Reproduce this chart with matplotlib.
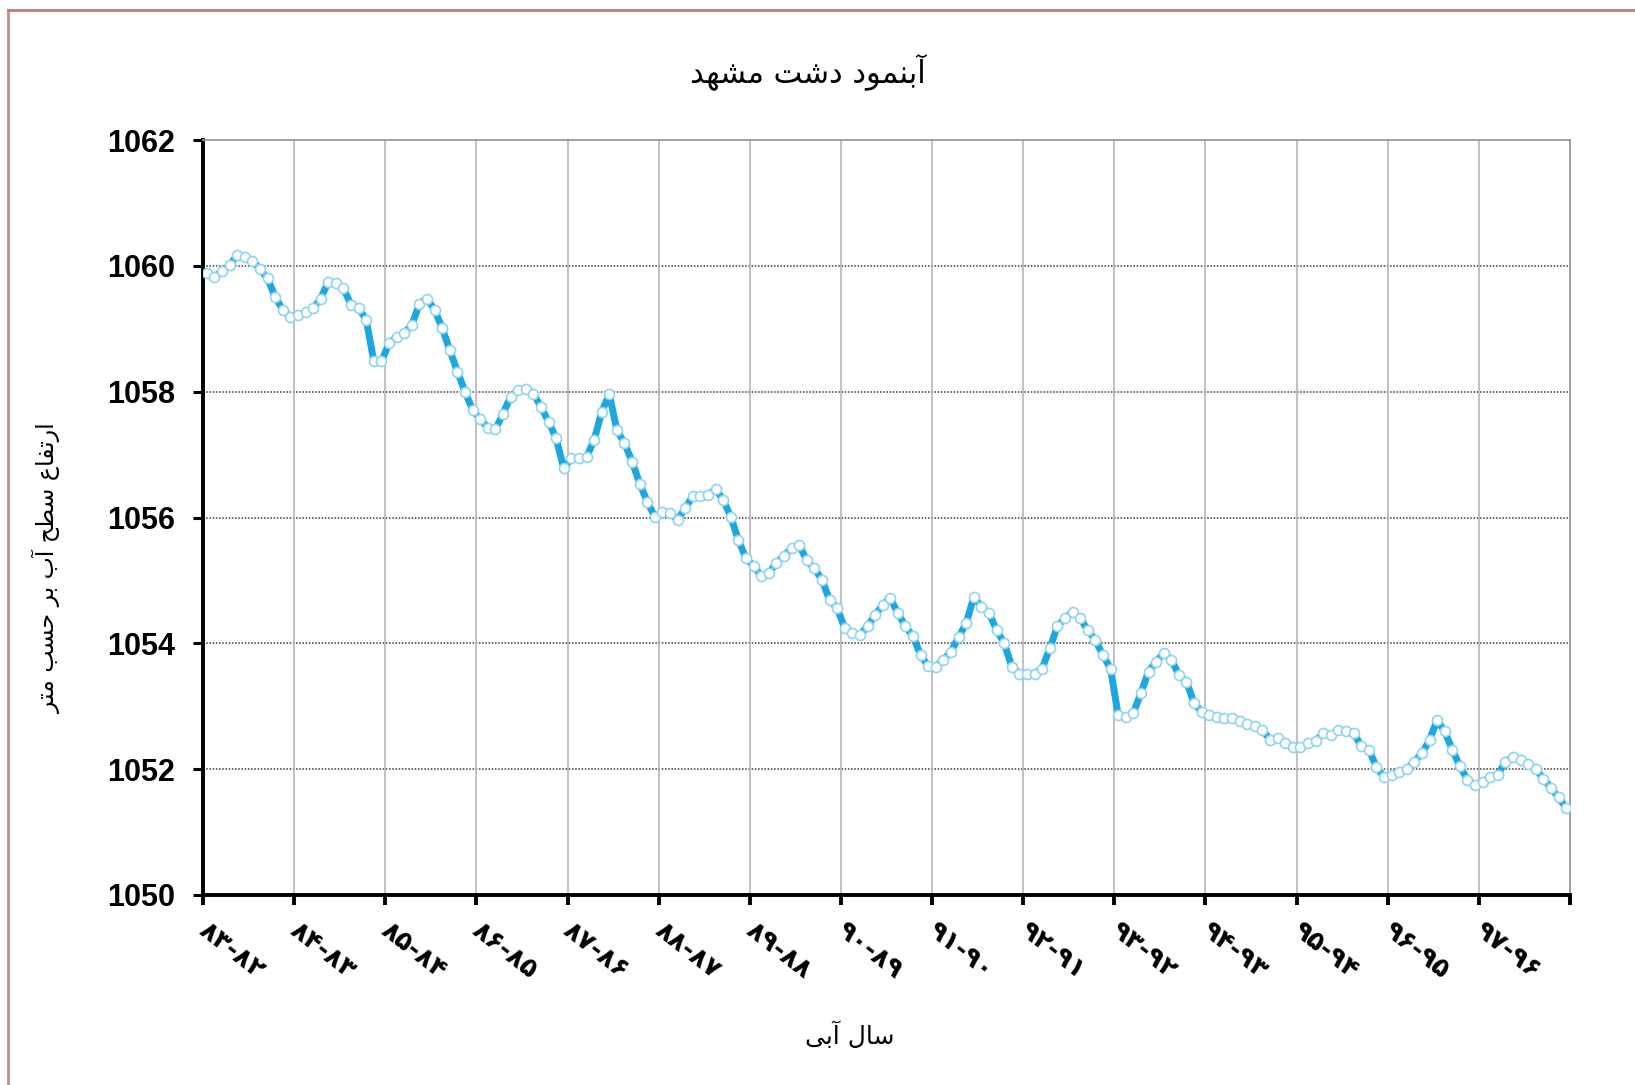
import matplotlib
matplotlib.use("Agg")
import matplotlib.pyplot as plt
from matplotlib.lines import Line2D
import numpy as np


# Persian presentation forms: (isolated, final, initial, medial) or (isolated, final)
FORMS = {
    "\u0622": ("\uFE81", "\uFE82"),
    "\u0627": ("\uFE8D", "\uFE8E"),
    "\u0628": ("\uFE8F", "\uFE90", "\uFE91", "\uFE92"),
    "\u062A": ("\uFE95", "\uFE96", "\uFE97", "\uFE98"),
    "\u062D": ("\uFEA1", "\uFEA2", "\uFEA3", "\uFEA4"),
    "\u062F": ("\uFEA9", "\uFEAA"),
    "\u0631": ("\uFEAD", "\uFEAE"),
    "\u0633": ("\uFEB1", "\uFEB2", "\uFEB3", "\uFEB4"),
    "\u0634": ("\uFEB5", "\uFEB6", "\uFEB7", "\uFEB8"),
    "\u0637": ("\uFEC1", "\uFEC2", "\uFEC3", "\uFEC4"),
    "\u0639": ("\uFEC9", "\uFECA", "\uFECB", "\uFECC"),
    "\u0641": ("\uFED1", "\uFED2", "\uFED3", "\uFED4"),
    "\u0644": ("\uFEDD", "\uFEDE", "\uFEDF", "\uFEE0"),
    "\u0645": ("\uFEE1", "\uFEE2", "\uFEE3", "\uFEE4"),
    "\u0646": ("\uFEE5", "\uFEE6", "\uFEE7", "\uFEE8"),
    "\u0647": ("\uFEE9", "\uFEEA", "\uFEEB", "\uFEEC"),
    "\u0648": ("\uFEED", "\uFEEE"),
    "\u06CC": ("\uFEEF", "\uFEF0", "\uFEF3", "\uFEF4"),
}


def shape(text):
    out = []
    for i, c in enumerate(text):
        if c not in FORMS:
            out.append(c)
            continue
        prev = text[i - 1] if i > 0 else None
        nxt = text[i + 1] if i + 1 < len(text) else None
        f = FORMS[c]
        joinPrev = prev in FORMS and len(FORMS[prev]) == 4
        joinNext = len(f) == 4 and nxt in FORMS
        if joinPrev and joinNext:
            out.append(f[3])
        elif joinPrev:
            out.append(f[1])
        elif joinNext:
            out.append(f[2])
        else:
            out.append(f[0])
    return "".join(reversed(out))


titleText = "آبنمود دشت مشهد"
yLabelText = "ارتفاع سطح آب بر حسب متر"
xLabelText = "سال آبی"

yearLabels = ["۸۳-۸۲", "۸۴-۸۳", "۸۵-۸۴", "۸۶-۸۵", "۸۷-۸۶", "۸۸-۸۷", "۸۹-۸۸", "۹۰-۸۹",
              "۹۱-۹۰", "۹۲-۹۱", "۹۳-۹۲", "۹۴-۹۳", "۹۵-۹۴", "۹۶-۹۵", "۹۷-۹۶"]

# monthly water level, one list per water year
y83 = [1059.88, 1059.82, 1059.92, 1060.01, 1060.17, 1060.14, 1060.08, 1059.95, 1059.80, 1059.51, 1059.30, 1059.19]
y84 = [1059.22, 1059.26, 1059.33, 1059.48, 1059.75, 1059.73, 1059.64, 1059.38, 1059.33, 1059.14, 1058.48, 1058.48]
y85 = [1058.77, 1058.87, 1058.93, 1059.06, 1059.40, 1059.48, 1059.30, 1059.01, 1058.66, 1058.32, 1058.00, 1057.71]
y86 = [1057.56, 1057.43, 1057.40, 1057.65, 1057.92, 1058.02, 1058.05, 1057.97, 1057.76, 1057.52, 1057.26, 1056.78]
y87 = [1056.94, 1056.94, 1056.96, 1057.23, 1057.68, 1057.96, 1057.39, 1057.18, 1056.89, 1056.54, 1056.25, 1056.01]
y88 = [1056.09, 1056.07, 1055.96, 1056.15, 1056.34, 1056.34, 1056.36, 1056.45, 1056.28, 1056.01, 1055.64, 1055.35]
y89 = [1055.23, 1055.07, 1055.11, 1055.28, 1055.39, 1055.51, 1055.56, 1055.32, 1055.19, 1055.01, 1054.69, 1054.56]
y90 = [1054.24, 1054.16, 1054.13, 1054.27, 1054.45, 1054.61, 1054.72, 1054.48, 1054.27, 1054.11, 1053.81, 1053.64]
y91 = [1053.63, 1053.74, 1053.87, 1054.10, 1054.32, 1054.74, 1054.58, 1054.48, 1054.21, 1054.00, 1053.63, 1053.52]
y92 = [1053.52, 1053.52, 1053.60, 1053.92, 1054.27, 1054.40, 1054.50, 1054.40, 1054.21, 1054.05, 1053.81, 1053.60]
y93 = [1052.86, 1052.83, 1052.89, 1053.21, 1053.55, 1053.71, 1053.84, 1053.74, 1053.50, 1053.39, 1053.05, 1052.91]
y94 = [1052.86, 1052.83, 1052.81, 1052.81, 1052.76, 1052.72, 1052.69, 1052.62, 1052.47, 1052.49, 1052.42, 1052.35]
y95 = [1052.35, 1052.41, 1052.44, 1052.58, 1052.54, 1052.62, 1052.61, 1052.58, 1052.37, 1052.31, 1052.04, 1051.87]
y96 = [1051.91, 1051.96, 1052.00, 1052.12, 1052.25, 1052.46, 1052.78, 1052.60, 1052.31, 1052.05, 1051.83, 1051.75]
y97 = [1051.80, 1051.88, 1051.91, 1052.12, 1052.20, 1052.15, 1052.08, 1052.00, 1051.85, 1051.70, 1051.55, 1051.38]

levels = np.array(y83 + y84 + y85 + y86 + y87 + y88 + y89 + y90 + y91 + y92 + y93 + y94 + y95 + y96 + y97)
months = np.arange(len(levels)) + 0.5

W, H = 1635, 1085
fig = plt.figure(figsize=(W / 100, H / 100), dpi=100)
ax = fig.add_axes([203 / W, 1 - 895 / H, (1570 - 203) / W, (895 - 140) / H])

ax.plot(months, levels, color="#1ea6df", lw=5, marker="o", ms=7.2,
        mfc="white", mec="#8fd4f0", mew=1.2, zorder=3)

ax.set_xlim(0, 180)
ax.set_ylim(1050, 1062)
ax.set_yticks(range(1050, 1063, 2))
ax.set_yticklabels([str(v) for v in range(1050, 1063, 2)],
                   fontfamily="Liberation Sans", fontweight="bold", fontsize=22)
ax.set_xticks(range(0, 181, 12))
ax.set_xticklabels([])
ax.tick_params(axis="y", direction="out", length=7, width=2.2, pad=13)
ax.tick_params(axis="x", direction="out", length=7, width=2.8)

for k, lab in enumerate(yearLabels):
    ax.text(k * 12 + 0.9, -0.03, lab, transform=ax.get_xaxis_transform(),
            rotation=-38, rotation_mode="anchor", ha="left", va="top",
            fontsize=19, fontweight="bold", family=["DejaVu Sans"])

for v in range(1052, 1061, 2):
    ax.axhline(v, color="#3a3a3a", lw=1.1, ls=(0, (1, 1.1)), zorder=1)
for m in range(12, 180, 12):
    ax.axvline(m, color="#b0b0b0", lw=1.1, zorder=1)

ax.spines["left"].set_linewidth(2.8)
ax.spines["bottom"].set_linewidth(2.8)
ax.spines["top"].set_color("#999999")
ax.spines["right"].set_color("#999999")
ax.spines["top"].set_linewidth(1.3)
ax.spines["right"].set_linewidth(1.3)

fig.text(808 / W, 1 - 72 / H, shape(titleText), ha="center", va="center",
         fontsize=22, family=["DejaVu Sans"])
fig.text(47 / W, 1 - 568 / H, shape(yLabelText), ha="center", va="center",
         rotation=90, fontsize=17, family=["DejaVu Sans"])
fig.text(850 / W, 1 - 1035 / H, shape(xLabelText), ha="center", va="center",
         fontsize=18, family=["DejaVu Sans"])

# reddish frame at the top and left edge
fig.add_artist(Line2D([8 / W, 8 / W], [0, 1 - 10 / H], color="#d08a8a", lw=2))
fig.add_artist(Line2D([8 / W, 1], [1 - 10 / H, 1 - 10 / H], color="#c07a7a", lw=2))

fig.savefig("out.png", dpi=100)
